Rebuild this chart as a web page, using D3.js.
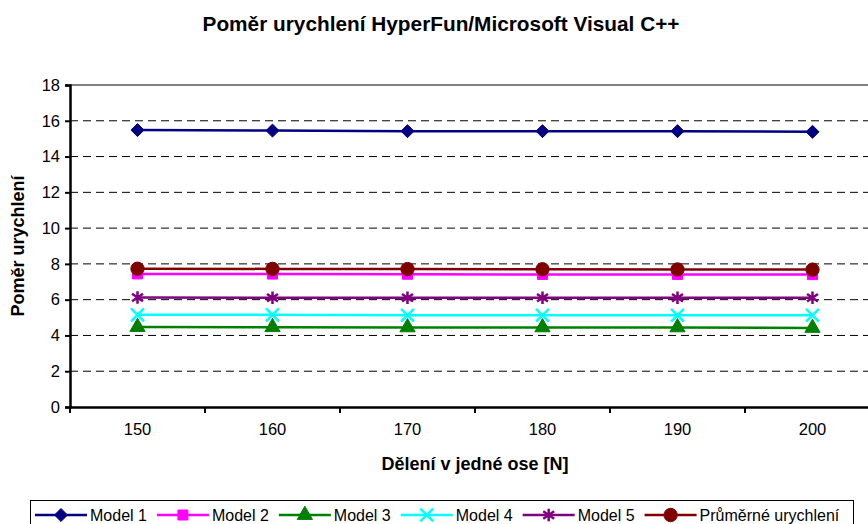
<!DOCTYPE html>
<html>
<head>
<meta charset="utf-8">
<script src="https://cdn.jsdelivr.net/npm/d3@7"></script>
<style>
    body { margin: 0; background: #fff; }
    svg { display: block; font-family: "Liberation Sans", Arial, sans-serif; }
</style>
</head>
<body>
<svg class="svg"></svg>
<script>
const categories = [150, 160, 170, 180, 190, 200];
const yTicks = [0, 2, 4, 6, 8, 10, 12, 14, 16, 18];

const seriesNames = ["Model 1", "Model 2", "Model 3", "Model 4", "Model 5", "Průměrné urychlení"];
const model1 = [15.48, 15.45, 15.42, 15.42, 15.42, 15.38];
const model2 = [7.44, 7.43, 7.42, 7.41, 7.41, 7.40];
const model3 = [4.47, 4.46, 4.45, 4.45, 4.45, 4.42];
const model4 = [5.15, 5.15, 5.13, 5.13, 5.13, 5.13];
const model5 = [6.12, 6.11, 6.11, 6.11, 6.11, 6.11];
const average = [7.73, 7.72, 7.71, 7.70, 7.69, 7.68];

// square turned 45 degrees
const symbolRhomb = {
    draw(context, size) {
        const r = Math.sqrt(size) * 0.62;
        context.moveTo(0, -r);
        context.lineTo(r, 0);
        context.lineTo(0, r);
        context.lineTo(-r, 0);
        context.closePath();
    }
};

// 6-armed star (X with a vertical bar)
const symbolStar = {
    draw(context, size) {
        const r = Math.sqrt(size) * 0.6;
        const d = r * 0.87;
        context.moveTo(0, -r); context.lineTo(0, r);
        context.moveTo(-d, -r * 0.6); context.lineTo(d, r * 0.6);
        context.moveTo(-d, r * 0.6); context.lineTo(d, -r * 0.6);
    }
};

const styles = [
    { color: "#000080", symbol: symbolRhomb, size: 110, fill: true },
    { color: "#ff00ff", symbol: d3.symbolSquare, size: 100, fill: true },
    { color: "#008000", symbol: d3.symbolTriangle, size: 100, fill: true },
    { color: "#00ffff", symbol: d3.symbolTimes, size: 110, fill: false },
    { color: "#800080", symbol: symbolStar, size: 110, fill: false },
    { color: "#800000", symbol: d3.symbolCircle, size: 140, fill: true }
];

const data = [model1, model2, model3, model4, model5, average].map((values, i) => ({
    name: seriesNames[i],
    style: styles[i],
    values: values.map((v, j) => ({ cat: categories[j], value: v }))
}));

const width = 868, height = 524;
const margin = { top: 85, right: -12, bottom: 117, left: 70 };

const svg = d3.select(".svg")
    .attr("width", width)
    .attr("height", height);

const x = d3.scaleBand()
    .domain(categories)
    .range([margin.left, width - margin.right]);

const y = d3.scaleLinear()
    .domain([0, 18])
    .range([height - margin.bottom, margin.top]);

// title
svg.append("text")
    .attr("x", 441)
    .attr("y", 31)
    .attr("text-anchor", "middle")
    .attr("font-size", 20.8)
    .attr("font-weight", "bold")
    .text("Poměr urychlení HyperFun/Microsoft Visual C++");

// grid
svg.append("g")
    .selectAll("line")
    .data(yTicks.filter(t => t > 0 && t < 18))
    .join("line")
    .attr("x1", margin.left)
    .attr("x2", width)
    .attr("y1", d => y(d))
    .attr("y2", d => y(d))
    .attr("stroke", "#000")
    .attr("stroke-width", 1)
    .attr("stroke-dasharray", "8,5");

svg.append("line")
    .attr("x1", margin.left)
    .attr("x2", width)
    .attr("y1", y(18))
    .attr("y2", y(18))
    .attr("stroke", "#808080")
    .attr("stroke-width", 2);

// y axis
const yAxis = svg.append("g")
    .attr("transform", `translate(${margin.left},0)`)
    .call(d3.axisLeft(y).tickValues(yTicks).tickSize(5).tickPadding(5));
yAxis.select(".domain").attr("stroke-width", 2.5);
yAxis.selectAll(".tick line").attr("stroke-width", 2);
yAxis.selectAll("text").attr("font-size", 16.5).attr("font-family", "Liberation Sans, Arial, sans-serif");

// x axis
const xAxis = svg.append("g")
    .attr("transform", `translate(0,${y(0)})`)
    .call(d3.axisBottom(x).tickSize(0).tickPadding(16));
xAxis.select(".domain").attr("stroke-width", 2.5);
xAxis.selectAll("text").attr("font-size", 16.5).attr("font-family", "Liberation Sans, Arial, sans-serif");

// ticks between categories
const bounds = categories.map(c => x(c)).concat([x.range()[1]]);
xAxis.append("g")
    .selectAll("line")
    .data(bounds)
    .join("line")
    .attr("x1", d => d)
    .attr("x2", d => d)
    .attr("y1", 0)
    .attr("y2", 6)
    .attr("stroke", "#000")
    .attr("stroke-width", 2);

// axis titles
svg.append("text")
    .attr("x", x(170) + x.bandwidth())
    .attr("y", 470)
    .attr("text-anchor", "middle")
    .attr("font-size", 18)
    .attr("font-weight", "bold")
    .text("Dělení v jedné ose [N]");

svg.append("text")
    .attr("transform", `translate(24,${(y(0) + y(18)) / 2}) rotate(-90)`)
    .attr("text-anchor", "middle")
    .attr("font-size", 18)
    .attr("font-weight", "bold")
    .text("Poměr urychlení");

// lines
const line = d3.line()
    .x(d => x(d.cat) + x.bandwidth() / 2)
    .y(d => y(d.value));

const series = svg.append("g")
    .selectAll("g")
    .data(data)
    .join("g");

series.append("path")
    .attr("fill", "none")
    .attr("stroke", d => d.style.color)
    .attr("stroke-width", 2.5)
    .attr("d", d => line(d.values));

function drawSymbol(sel, style) {
    sel.attr("d", d3.symbol().type(style.symbol).size(style.size))
        .attr("fill", style.fill ? style.color : "none")
        .attr("stroke", style.color)
        .attr("stroke-width", style.fill ? 1 : 2.5);
}

series.each(function (s) {
    d3.select(this).selectAll(".marker")
        .data(s.values)
        .join("path")
        .attr("class", "marker")
        .attr("transform", d => `translate(${x(d.cat) + x.bandwidth() / 2},${y(d.value)})`)
        .call(drawSymbol, s.style);
});

// legend
const legend = svg.append("g");
legend.append("rect")
    .attr("x", 30.5)
    .attr("y", 500.5)
    .attr("width", 823)
    .attr("height", 40)
    .attr("fill", "#fff")
    .attr("stroke", "#000")
    .attr("stroke-width", 1);

let lx = 35;
data.forEach(s => {
    const g = legend.append("g").attr("transform", `translate(${lx},515)`);
    g.append("line")
        .attr("x1", 0)
        .attr("x2", 52)
        .attr("stroke", s.style.color)
        .attr("stroke-width", 2.5);
    g.append("path")
        .attr("transform", "translate(26,0)")
        .call(drawSymbol, s.style);
    const t = g.append("text")
        .attr("x", 55)
        .attr("dy", "0.35em")
        .attr("font-size", 16)
        .text(s.name);
    lx += 55 + t.node().getComputedTextLength() + 10;
});
</script>
</body>
</html>
